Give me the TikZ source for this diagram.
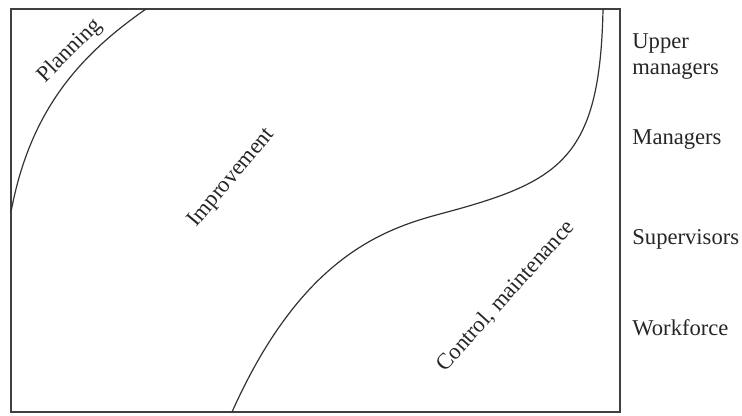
\documentclass[tikz,border=0pt]{standalone}
\usepackage{fontspec}
\setmainfont{Liberation Serif}
\begin{document}
\begin{tikzpicture}[x=0.5pt, y=-0.5pt, lbl/.style={font=\fontsize{11.3}{13}\selectfont, inner sep=0pt, text=black!85}]
        \useasboundingbox (0,0) rectangle (742,416);
        \def\frameright{620}

        \draw[black!75, line width=0.55pt] (11,9) rectangle (\frameright,412);

        % boundaries between the three kinds of work
        \draw[black!80, line width=0.6pt] (11,212) .. controls (30,110) and (80,55) .. (146,9);
        \draw[black!80, line width=0.6pt] (232,412) .. controls (300,260) and (380,230) .. (440,214)
              .. controls (560,182) and (600,160) .. (603,9);

        \node[lbl, rotate=45] (planning) at (70,51) {Planning};
        \node[lbl, rotate=50] (improvement) at (232,178) {Improvement};
        \node[lbl, rotate=48] (control) at (506,296) {Control, maintenance};

        % levels
        \node[lbl, anchor=base west, align=left] (upper) at (632,75) {Upper\\managers};
        \node[lbl, anchor=base west] (managers) at (632,145) {Managers};
        \node[lbl, anchor=base west] (supervisors) at (632,245) {Supervisors};
        \node[lbl, anchor=base west] (workforce) at (632,335) {Workforce};

    \end{tikzpicture}
\end{document}
